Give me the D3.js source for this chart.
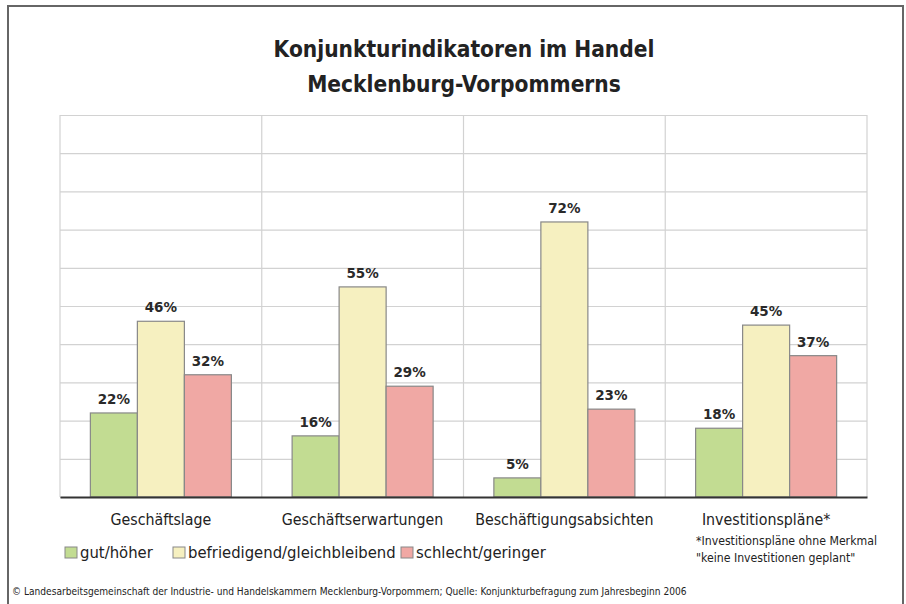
<!DOCTYPE html>
<html>
<head>
<meta charset="utf-8">
<script src="https://cdn.jsdelivr.net/npm/d3@7"></script>
<style>
  body { margin: 0; background: #fff; }
  svg { display: block; }
  .cond { font-family: "Liberation Sans Narrow", "DejaVu Sans Condensed", "Roboto Condensed", sans-serif; }
</style>
</head>
<body>
<svg id="chart" width="906" height="604"></svg>
<script>
// chart data
let categories = ["Geschäftslage", "Geschäftserwartungen", "Beschäftigungsabsichten", "Investitionspläne*"];
let series = ["gut/höher", "befriedigend/gleichbleibend", "schlecht/geringer"];
let seriesColors = ["#c2dc92", "#f6f0c0", "#f0a8a4"];
let gutValues = [22, 16, 5, 18];
let befriedigendValues = [46, 55, 72, 45];
let schlechtValues = [32, 29, 23, 37];
let yTicks = [0, 10, 20, 30, 40, 50, 60, 70, 80, 90, 100];
let titleLines = ["Konjunkturindikatoren im Handel", "Mecklenburg-Vorpommerns"];
let footnoteLines = ["*Investitionspläne ohne Merkmal", "\"keine Investitionen geplant\""];
let sourceText = "© Landesarbeitsgemeinschaft der Industrie- und Handelskammern Mecklenburg-Vorpommern; Quelle: Konjunkturbefragung zum Jahresbeginn 2006";

let allValues = [gutValues, befriedigendValues, schlechtValues];

let canvas = d3.select("#chart");

let plotLeft = 60, plotRight = 867, plotTop = 115, plotBottom = 497;

// outer frame (no bottom edge)
canvas.append("path")
    .attr("d", "M8,604 V6 H903 V604")
    .attr("fill", "none")
    .attr("stroke", "#666")
    .attr("stroke-width", 2);

// title
canvas.append("g").selectAll("text")
    .data(titleLines)
    .enter().append("text")
    .attr("class", "cond")
    .attr("x", 464)
    .attr("y", (d, i) => 57 + i * 35)
    .attr("text-anchor", "middle")
    .style("font-size", "22.5px")
    .style("font-weight", "bold")
    .style("fill", "#222")
    .text(d => d);

let x = d3.scaleBand()
    .domain(categories)
    .range([plotLeft, plotRight])
    .padding(0);

let xs = d3.scaleBand()
    .domain(series)
    .range([0, x.bandwidth()])
    .paddingInner(0)
    .paddingOuter(0.646);

let y = d3.scaleLinear()
    .domain([0, 100])
    .range([plotBottom, plotTop]);

// horizontal grid
canvas.append("g")
    .attr("transform", "translate(" + plotLeft + ",0)")
    .call(d3.axisLeft(y).tickValues(yTicks).tickSize(-(plotRight - plotLeft)).tickFormat(""))
    .call(g => g.select(".domain").remove())
    .call(g => g.selectAll(".tick line").attr("stroke", "#d2d2d2").attr("stroke-width", 1.2));

// vertical category dividers
let dividers = categories.map(c => x(c)).concat([plotRight]);
canvas.append("g").selectAll("line")
    .data(dividers)
    .enter().append("line")
    .attr("x1", d => d).attr("x2", d => d)
    .attr("y1", plotTop).attr("y2", plotBottom)
    .attr("stroke", "#d2d2d2")
    .attr("stroke-width", 1.2);

// bars
let barData = [];
categories.forEach((c, ci) => {
    series.forEach((s, si) => {
        barData.push({ cat: c, ser: s, si: si, value: allValues[si][ci] });
    });
});

canvas.append("g").selectAll("rect")
    .data(barData)
    .enter().append("rect")
    .attr("x", d => x(d.cat) + xs(d.ser))
    .attr("width", xs.bandwidth())
    .attr("y", d => y(d.value))
    .attr("height", d => plotBottom - y(d.value))
    .style("fill", d => seriesColors[d.si])
    .style("stroke", "#888")
    .style("stroke-width", 1.2);

// value labels
canvas.append("g").selectAll("text")
    .data(barData)
    .enter().append("text")
    .attr("x", d => x(d.cat) + xs(d.ser) + xs.bandwidth() / 2)
    .attr("y", d => y(d.value) - 9)
    .attr("text-anchor", "middle")
    .style("font-family", "'DejaVu Sans', sans-serif")
    .style("font-size", "13.5px")
    .style("font-weight", "bold")
    .style("fill", "#2a2a2a")
    .text(d => d.value + "%");

// baseline + category labels
canvas.append("g")
    .attr("transform", "translate(0," + plotBottom + ")")
    .call(d3.axisBottom(x).tickSize(0).tickPadding(17))
    .call(g => g.select(".domain").attr("stroke", "#333").attr("stroke-width", 2))
    .call(g => g.selectAll(".tick text")
        .attr("class", "cond")
        .style("font-size", "15.8px")
        .style("fill", "#222"));

// legend
let legendX = [65, 173, 401];
let legend = canvas.append("g").selectAll("g")
    .data(series)
    .enter().append("g")
    .attr("transform", (d, i) => "translate(" + legendX[i] + ",547)");
legend.append("rect")
    .attr("width", 12).attr("height", 11)
    .style("fill", (d, i) => seriesColors[i])
    .style("stroke", "#888");
legend.append("text")
    .attr("class", "cond")
    .attr("x", 15)
    .attr("y", 11)
    .style("font-size", "16.5px")
    .style("fill", "#222")
    .text(d => d);

// footnote
canvas.append("g").selectAll("text")
    .data(footnoteLines)
    .enter().append("text")
    .attr("class", "cond")
    .attr("x", 696)
    .attr("y", (d, i) => 545 + i * 17)
    .style("font-size", "12.2px")
    .style("fill", "#222")
    .text(d => d);

// source
canvas.append("text")
    .attr("class", "cond")
    .attr("x", 12)
    .attr("y", 595)
    .style("font-size", "10.1px")
    .style("fill", "#222")
    .text(sourceText);
</script>
</body>
</html>
